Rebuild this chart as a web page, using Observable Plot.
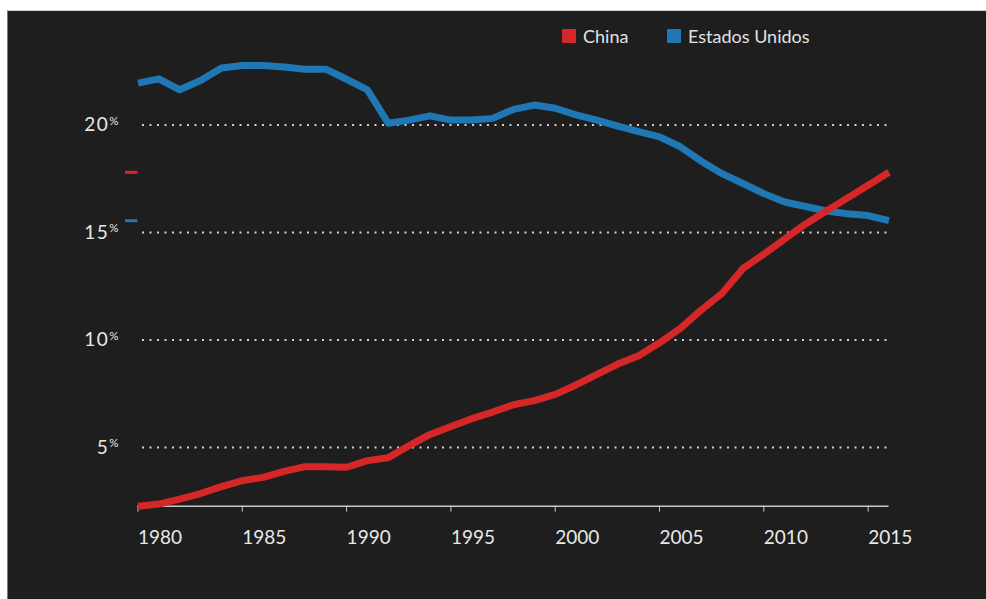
<!DOCTYPE html>
<html><head><meta charset="utf-8">
<script src="https://cdn.jsdelivr.net/npm/d3@7"></script>
<script src="https://cdn.jsdelivr.net/npm/@observablehq/plot@0.6"></script>
<style>
body{margin:0;background:#fff;font-family:Lato,sans-serif;}
#panel{position:absolute;left:7px;top:10px;width:979px;height:589px;background:#1e1e1e;border-top:1px solid #cfcfcf;border-left:1px solid #7a7a7a;box-sizing:border-box}
#chart{position:absolute;left:0;top:0}
.leg{position:absolute;top:26px;height:20px;display:flex;align-items:center;color:#e2e2e2;font-size:18px;font-family:Lato,sans-serif;white-space:nowrap}
.sw{width:14px;height:14px;margin-right:7px}
</style></head><body>
<div id="panel"></div><div id="chart"></div><div id="legend"></div>
<script>
const seriesNames = ["China", "Estados Unidos"];
const seriesColors = ["#d62728", "#1f77b4"];
const years = [1980,1981,1982,1983,1984,1985,1986,1987,1988,1989,1990,1991,1992,1993,1994,1995,1996,1997,1998,1999,2000,2001,2002,2003,2004,2005,2006,2007,2008,2009,2010,2011,2012,2013,2014,2015,2016];
const china = [2.27,2.37,2.60,2.86,3.18,3.46,3.61,3.89,4.11,4.11,4.08,4.39,4.52,5.09,5.61,5.98,6.34,6.65,6.99,7.18,7.47,7.91,8.40,8.88,9.27,9.87,10.54,11.40,12.17,13.33,13.99,14.70,15.40,16.00,16.60,17.20,17.80];
const us = [21.95,22.15,21.64,22.07,22.65,22.77,22.77,22.70,22.60,22.60,22.13,21.64,20.08,20.23,20.43,20.23,20.23,20.31,20.73,20.93,20.78,20.47,20.23,19.95,19.69,19.45,18.99,18.32,17.74,17.28,16.81,16.42,16.21,16.00,15.87,15.79,15.55];
const xTicks = [1980,1985,1990,1995,2000,2005,2010,2015];
const yTicks = [5,10,15,20];

const chinaRows = years.map((yr,i)=>({year:yr, value:china[i]}));
const usRows = years.map((yr,i)=>({year:yr, value:us[i]}));
const yDomain = d3.extent([...china, ...us]);
const chinaLast = [{x0:years[0], value:china[china.length-1]}];
const usLast = [{x0:years[0], value:us[us.length-1]}];

const plot = Plot.plot({
  width:986, height:599,
  marginLeft:137.5, marginRight:97.5, marginTop:65, marginBottom:93.3,
  style:{background:"transparent", color:"#e6e6e6", fontFamily:"Lato, sans-serif", fontSize:"18px", overflow:"visible"},
  x:{domain:[years[0], years[years.length-1]]},
  y:{domain:yDomain},
  marks:[
    Plot.ruleY(yTicks, {stroke:"#d0d0d0", strokeWidth:2, strokeDasharray:"2,5.5", insetLeft:4.5}),
    Plot.ruleY([yDomain[0]], {stroke:"#c8c8c8", strokeWidth:1.5}),
    Plot.axisX({ticks:xTicks, tickFormat:d=>String(d), tickSize:6, tickPadding:18, textAnchor:"start", stroke:"#c8c8c8", fill:"#e8e8e8", label:null, fontSize:19}),
    Plot.axisY({ticks:yTicks, tickSize:0, tickPadding:19.5, tickFormat:d=>d+"%", label:null, fill:"#e8e8e8", fontSize:19}),
    Plot.line(usRows, {x:"year", y:"value", stroke:seriesColors[1], strokeWidth:7, strokeLinejoin:"round", strokeLinecap:"butt"}),
    Plot.line(chinaRows, {x:"year", y:"value", stroke:seriesColors[0], strokeWidth:7, strokeLinejoin:"round", strokeLinecap:"butt"}),
    Plot.ruleY(chinaLast, {y:"value", x1:"x0", x2:"x0", insetLeft:-12.5, stroke:seriesColors[0], strokeWidth:3}),
    Plot.ruleY(usLast, {y:"value", x1:"x0", x2:"x0", insetLeft:-12.5, stroke:seriesColors[1], strokeWidth:3})
  ]
});
d3.select(plot).selectAll('g[aria-label="y-axis tick label"] text').each(function(){
  const t = this.textContent.replace("%","");
  const s = d3.select(this);
  s.text(null);
  s.append("tspan").attr("letter-spacing", "1.5px").text(t);
  s.append("tspan").attr("font-size", 11.5).attr("dy", "-0.55em").text("%");
});
document.getElementById("chart").appendChild(plot);

const legendLefts = [562, 667];
const legend = document.getElementById("legend");
seriesNames.forEach((n,i)=>{
  const d = document.createElement("div");
  d.className = "leg";
  d.style.left = legendLefts[i] + "px";
  d.innerHTML = `<span class="sw" style="background:${seriesColors[i]}"></span><span>${n}</span>`;
  legend.appendChild(d);
});
</script>
</body></html>
